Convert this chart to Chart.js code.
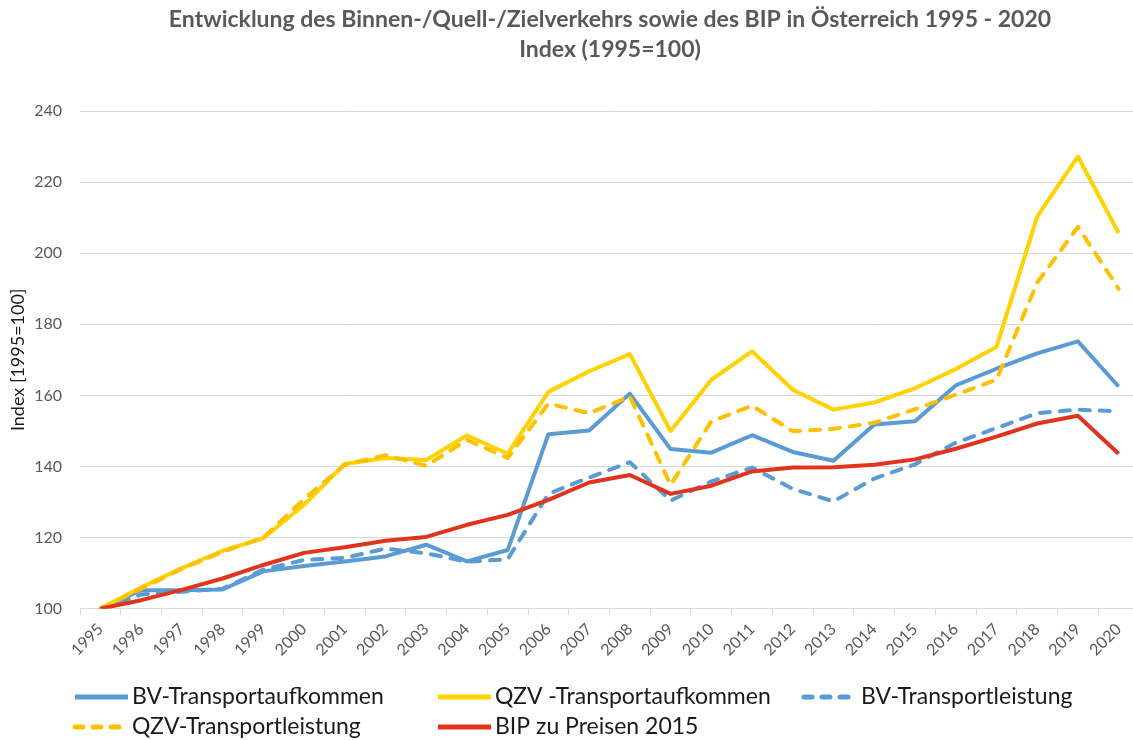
<!DOCTYPE html>
<html><head><meta charset="utf-8">
<script src="https://cdn.jsdelivr.net/npm/chart.js@4.4.1/dist/chart.umd.min.js"></script>
<style>
html,body{margin:0;padding:0;background:#fff;overflow:hidden;width:1133px;height:740px}
#wrap{position:relative;width:1150px;height:740px}
</style></head>
<body><div id="wrap"><canvas id="c" width="1150" height="740"></canvas></div>
<script>
const years = ['1995','1996','1997','1998','1999','2000','2001','2002','2003','2004','2005','2006','2007','2008','2009','2010','2011','2012','2013','2014','2015','2016','2017','2018','2019','2020'];
const bvTransportaufkommen = [100, 105.2, 105.2, 105.4, 110.5, 112.0, 113.3, 114.7, 118.0, 113.3, 116.5, 149.1, 150.1, 160.5, 144.9, 143.9, 148.8, 144.1, 141.6, 151.8, 152.7, 162.8, 167.5, 171.8, 175.2, 162.5];
const qzvTransportaufkommen = [100, 106.0, 111.4, 116.3, 119.8, 129.2, 140.7, 142.4, 141.8, 148.8, 143.6, 161.0, 166.8, 171.6, 150.0, 164.4, 172.4, 161.6, 156.0, 158.0, 162.0, 167.4, 173.6, 210.3, 227.2, 205.7];
const bvTransportleistung = [100, 104.0, 104.8, 105.6, 111.0, 113.7, 114.3, 116.9, 115.6, 113.2, 113.9, 132.3, 136.9, 141.2, 130.4, 135.8, 139.7, 133.7, 130.2, 136.6, 140.6, 146.7, 150.8, 155.0, 156.0, 155.5];
const qzvTransportleistung = [100, 105.6, 111.2, 116.0, 120.0, 130.8, 140.5, 143.2, 140.2, 147.5, 142.4, 157.7, 155.0, 159.7, 134.8, 152.7, 157.1, 149.9, 150.6, 152.3, 156.1, 160.2, 164.4, 191.7, 207.4, 190.0];
const bipPreise2015 = [100, 102.4, 105.3, 108.5, 112.3, 115.7, 117.3, 119.1, 120.2, 123.6, 126.4, 130.6, 135.5, 137.6, 132.3, 134.6, 138.6, 139.7, 139.8, 140.5, 142.0, 145.0, 148.4, 152.1, 154.3, 143.6];
const seriesNames = ['BV-Transportaufkommen', 'QZV -Transportaufkommen', 'BV-Transportleistung', 'QZV-Transportleistung', 'BIP zu Preisen 2015'];
const yTicks = [100, 120, 140, 160, 180, 200, 220, 240];
const titleLines = ['Entwicklung des Binnen-/Quell-/Zielverkehrs sowie des BIP in Österreich 1995 - 2020', 'Index (1995=100)'];
const yAxisTitle = 'Index [1995=100]';

const FONT = "Lato, 'Open Sans', 'DejaVu Sans', sans-serif";
const BLUE = '#5B9BD5', YELLOW = '#FFD200', GOLD = '#FFC000', RED = '#E2341D';
const DASH = [10, 10];

function ds(label, data, color, dashed, order) {
  return {
    label, data, borderColor: color, backgroundColor: color,
    borderWidth: 4, borderDash: dashed ? DASH : [], borderCapStyle: dashed ? 'round' : 'butt',
    borderJoinStyle: 'round', pointRadius: 0, pointHoverRadius: 0, tension: 0, fill: false, order
  };
}

const titlePlugin = {
  id: 'customTitle',
  afterDraw(chart) {
    const ctx = chart.ctx;
    ctx.save();
    ctx.fillStyle = '#595959';
    ctx.font = 'bold 23px ' + FONT;
    ctx.textAlign = 'center';
    ctx.textBaseline = 'middle';
    ctx.fillText(titleLines[0], 610, 20);
    ctx.fillText(titleLines[1], 610, 50);
    ctx.restore();
  }
};

const legendPlugin = {
  id: 'customLegend',
  afterDraw(chart) {
    const ctx = chart.ctx;
    const colsX = [132, 495, 861], rowsY = [697, 727];
    chart.data.datasets.forEach((d, i) => {
      const r = Math.floor(i / 3), c = i % 3;
      const tx = colsX[c], y = rowsY[r];
      ctx.save();
      ctx.strokeStyle = d.borderColor;
      ctx.lineWidth = 5;
      ctx.lineCap = d.borderDash.length ? 'round' : 'butt';
      ctx.setLineDash(d.borderDash.length ? [8, 10] : []);
      ctx.beginPath();
      ctx.moveTo(tx - 57, y);
      ctx.lineTo(tx - 4, y);
      ctx.stroke();
      ctx.restore();
      ctx.save();
      ctx.fillStyle = '#1a1a1a';
      ctx.font = '23px ' + FONT;
      ctx.textAlign = 'left';
      ctx.textBaseline = 'middle';
      ctx.fillText(d.label, tx, y);
      ctx.restore();
    });
  }
};

new Chart(document.getElementById('c'), {
  type: 'line',
  data: {
    labels: years,
    datasets: [
      ds(seriesNames[0], bvTransportaufkommen, BLUE, false, 5),
      ds(seriesNames[1], qzvTransportaufkommen, YELLOW, false, 4),
      ds(seriesNames[2], bvTransportleistung, BLUE, true, 3),
      ds(seriesNames[3], qzvTransportleistung, GOLD, true, 2),
      ds(seriesNames[4], bipPreise2015, RED, false, 1)
    ]
  },
  plugins: [titlePlugin, legendPlugin],
  options: {
    responsive: false,
    animation: false,
    devicePixelRatio: 1,
    layout: { padding: { top: 111, right: 11, left: 0, bottom: 0 } },
    plugins: { legend: { display: false }, title: { display: false }, tooltip: { enabled: false } },
    scales: {
      x: {
        type: 'category',
        offset: true,
        afterFit(scale) { scale.height = 131.3; },
        grid: { display: true, offset: true, drawOnChartArea: false, drawTicks: true, tickLength: 6, color: '#D9D9D9', lineWidth: 1 },
        border: { display: true, color: '#D9D9D9', width: 1 },
        ticks: { autoSkip: false, maxRotation: 45, minRotation: 45, color: '#595959', font: { family: FONT, size: 16 }, padding: 5 }
      },
      y: {
        min: yTicks[0], max: yTicks[yTicks.length - 1],
        afterFit(scale) { scale.width = 80; },
        ticks: { stepSize: yTicks[1] - yTicks[0], color: '#595959', font: { family: FONT, size: 16 }, padding: 18 },
        grid: { color: '#D9D9D9', lineWidth: 1, drawTicks: false },
        border: { display: false },
        title: { display: true, text: yAxisTitle, color: '#1a1a1a', font: { family: FONT, size: 18 }, padding: { top: 7, bottom: 0 } }
      }
    }
  }
});
</script>
</body></html>
